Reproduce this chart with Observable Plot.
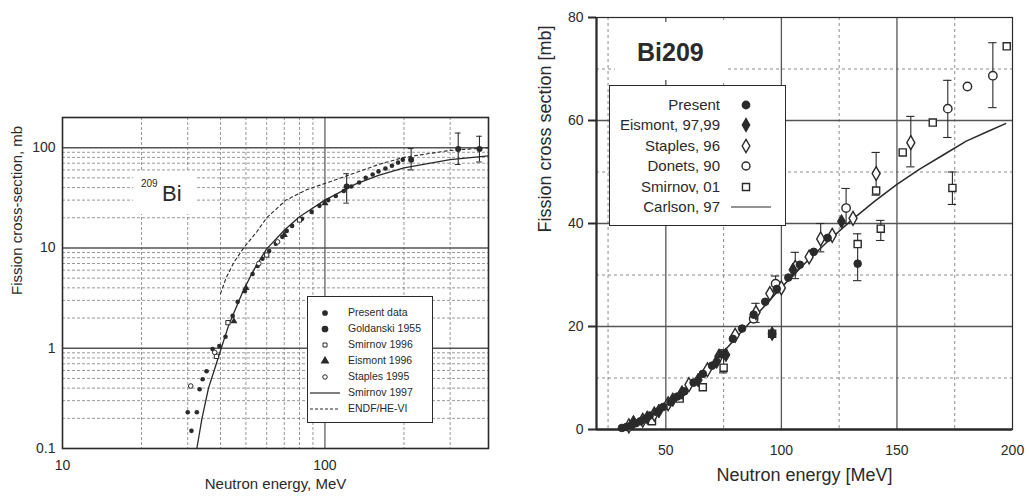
<!DOCTYPE html>
<html><head><meta charset="utf-8">
<script src="https://cdn.jsdelivr.net/npm/d3@7"></script>
<script src="https://cdn.jsdelivr.net/npm/@observablehq/plot@0.6"></script>
<style>
body{margin:0;background:#fff;font-family:"Liberation Sans",Arial,sans-serif;color:#2a2a2a;}
#wrap{position:relative;width:1029px;height:499px;overflow:hidden;background:#fff;}
#wrap svg.plot{position:absolute;top:0;}
.box{position:absolute;background:#fff;box-sizing:border-box;}
.row{position:absolute;white-space:nowrap;line-height:1;}
</style></head><body><div id="wrap"></div>
<script>
// ---------- LEFT PANEL DATA (log-log) ----------
const lXTicks = [10, 100];
const lYTicks = [0.1, 1, 10, 100];
const lMinorX = [20, 30, 40, 50, 60, 70, 80, 90, 200, 300];
const lMajorX = [100];
const lMinorY = [0.2, 0.3, 0.4, 0.5, 0.6, 0.7, 0.8, 0.9, 2, 3, 4, 5, 6, 7, 8, 9, 20, 30, 40, 50, 60, 70, 80, 90, 200];
const lMajorY = [1, 10, 100];
const lSmirnov97 = [[32.5,0.1],[34,0.2],[36,0.4],[38,0.62],[40,0.95],[43,1.7],[48.5,3.6],[52,5.2],[55,6.8],[60,9.8],[70,15],[80,20.5],[100,30],[130,43],[160,53],[200,63],[300,76],[420,83]];
const lEndf = [[40,3.5],[42,5],[45,7.2],[49,10],[55,14.5],[60,20],[71,30],[85,38],[100,44],[130,56],[160,68],[200,80],[300,94],[420,100]];
const lPresent = [[30,0.23],[31,0.15],[32.5,0.23],[33.3,0.39],[34.2,0.49],[35.4,0.59],[37.3,0.98],[39.6,1.05],[41.8,1.3],[44.5,2.1],[46.5,2.9],[49.5,3.7],[53,5.5],[55.4,6.6],[57.8,7.8],[61.3,9.3],[65,11],[68.8,12.9],[71.5,14.8],[75,16.6],[81.8,19.5],[89,22.9],[95.3,26.3],[103,30],[110,33],[118,37],[126,41],[135,45],[143,50],[152,54],[160,58],[170,62],[180,66],[190,71],[198,76]];
const lGoldanski = [[121,41],[213,76],[322,97],[388,97]];
const lGoldanskiErr = [[121,28,55],[213,60,98],[322,68,140],[388,72,130]];
const lSmirnov96 = [[38.6,0.83],[42.7,1.8],[60,8.5],[80,19]];
const lEismont96 = [[45,1.86],[50,4],[70,13.5],[100,28]];
const lStaples95 = [[30.8,0.42],[38,0.91],[56,7],[66,11.5]];
const lLegend = ["Present data","Goldanski 1955","Smirnov 1996","Eismont 1996","Staples 1995","Smirnov 1997","ENDF/HE-VI"];

// ---------- RIGHT PANEL DATA (linear) ----------
const rXTicks = [50, 100, 150, 200];
const rYTicks = [0, 20, 40, 60, 80];
const rMinorX = [25, 75, 125, 175];
const rMajorX = [50, 100, 150];
const rMinorY = [10, 30, 50, 70];
const rMajorY = [20, 40, 60];
const rCarlson = [[30,0.1],[33,0.4],[36,0.8],[40,1.5],[45,2.7],[50,4.2],[55,6],[60,8],[65,10.2],[70,12.6],[75,15.1],[80,17.6],[85,20.1],[90,22.6],[95,25.1],[100,27.6],[110,32.2],[120,36.5],[130,40.5],[140,44.2],[150,47.6],[160,50.6],[170,53.3],[180,56],[190,58],[197,59.4]];
const rPresent = [[31,0.3],[33,0.5],[35,0.8],[37,1.2],[39,1.6],[41,2.1],[43,2.7],[46,3.4],[49,4.4],[52,5.3],[55,6.4],[58,7.4],[62,9.1],[66,10.8],[70,12.4],[74,14.6],[79,17.6],[83,19.6],[88,22.3],[93,24.8],[98,27.3],[103,29.5],[108,32],[114,34.5],[120,37.2],[133,32.2]];
const rEismont = [[36,1.4],[42,2.3],[47,3.6],[53,5.8],[57,7.2],[64,9.6],[72,13.2],[76,14.5],[96,18.6],[105,31],[126,40.4]];
const rStaples = [[34,0.7],[40,1.8],[45,3.0],[51,5.0],[60,8.7],[68,11.6],[73,14.2],[80,18.3],[89,22.7],[95,26.4],[100,27.5],[106,31.5],[112,33.5],[117,37],[122,37.7],[131,41],[141,49.7],[156,55.7]];
const rDonets = [[88,21.5],[97.5,28.3],[128,43],[172,62.3],[180.5,66.6],[191.5,68.7]];
const rSmirnov = [[44,1.6],[56,6.0],[66,8.2],[75,12],[96,18.6],[133,36],[141,46.4],[143,39],[152.5,53.8],[165.5,59.6],[174,46.9],[197.5,74.4]];
const rErr = [[133,28.9,38],[143,36.7,40.6],[174,43.7,50],[141,45.5,53.8],[156,51,60.8],[128,40,46.8],[172,56.7,67.8],[191.5,62.5,75.1],[106,29.3,34.4],[117,34.5,40],[89,20.8,24.5],[97.5,26.5,29.8],[75,11,15.5]];
const rLegend = ["Present","Eismont, 97,99","Staples, 96","Donets, 90","Smirnov, 01","Carlson, 97"];

// ---------- helpers ----------
const ink = "#2a2a2a";
const P = a => a.map(([x,y]) => ({x,y}));
const E = a => a.map(([x,lo,hi]) => ({x,lo,hi}));
const font = "Liberation Sans, Arial, sans-serif";
const wrap = document.getElementById("wrap");

// ---------- LEFT PLOT ----------
const dash = {stroke:"#8c8c8c", strokeWidth:0.9, strokeDasharray:"3,2"};
const left = Plot.plot({
  width: 500, height: 499,
  marginLeft: 62, marginRight: 12, marginTop: 117, marginBottom: 51,
  style: {fontFamily: font, fontSize: "14px", color: ink, background: "transparent"},
  x: {type: "log", domain: [10, 420]},
  y: {type: "log", domain: [0.1, 200]},
  marks: [
    Plot.ruleX(lMinorX, dash),
    Plot.ruleY(lMinorY, dash),
    Plot.ruleX(lMajorX, {stroke:"#555", strokeWidth:1.2}),
    Plot.ruleY(lMajorY, {stroke:"#555", strokeWidth:1.6}),
    Plot.frame({stroke: ink, strokeWidth: 1.6}),
    Plot.axisY(lYTicks, {tickSize: 0, tickPadding: 7, tickFormat: d => String(d), label: null, fontSize: 14}),
    Plot.axisX(lXTicks, {tickSize: 0, tickPadding: 12, tickFormat: d => String(d), label: null, fontSize: 14}),
    Plot.line(P(lEndf), {x:"x", y:"y", stroke: ink, strokeWidth: 1.1, strokeDasharray: "3,3"}),
    Plot.line(P(lSmirnov97), {x:"x", y:"y", stroke: ink, strokeWidth: 1.3}),
    Plot.ruleX(E(lGoldanskiErr), {x:"x", y1:"lo", y2:"hi", stroke: ink, strokeWidth: 1.1}),
    Plot.ruleY(E(lGoldanskiErr), {x1: d => d.x*0.975, x2: d => d.x*1.025, y:"lo", stroke: ink}),
    Plot.ruleY(E(lGoldanskiErr), {x1: d => d.x*0.975, x2: d => d.x*1.025, y:"hi", stroke: ink}),
    Plot.dot(P(lPresent), {x:"x", y:"y", r: 2.3, fill: ink, stroke: "none"}),
    Plot.dot(P(lGoldanski), {x:"x", y:"y", r: 3, fill: ink, stroke: "none"}),
    Plot.dot(P(lSmirnov96), {x:"x", y:"y", r: 2.4, symbol: "square", fill: "white", stroke: ink, strokeWidth: 1}),
    Plot.dot(P(lEismont96), {x:"x", y:"y", r: 2.6, symbol: "triangle", fill: ink, stroke: "none"}),
    Plot.dot(P(lStaples95), {x:"x", y:"y", r: 2.3, fill: "white", stroke: ink, strokeWidth: 1}),
    Plot.text(["Fission cross-section, mb"], {text: d => d, frameAnchor: "left", dx: -45, dy: 12, rotate: -90, fontSize: 15, fill: ink}),
    Plot.text(["Neutron energy, MeV"], {text: d => d, frameAnchor: "bottom", dy: 40, fontSize: 15, fill: ink})
  ]
});
left.classList.add("plot");
left.style.left = "0px";
wrap.appendChild(left);

// ---------- RIGHT PLOT ----------
const dashR = {stroke:"#8c8c8c", strokeWidth:1, strokeDasharray:"3,3"};
const right = Plot.plot({
  width: 499, height: 499,
  marginLeft: 66, marginRight: 17, marginTop: 17, marginBottom: 70,
  style: {fontFamily: font, fontSize: "14px", color: ink, background: "transparent"},
  x: {domain: [20, 200]},
  y: {domain: [0, 80]},
  marks: [
    Plot.ruleX(rMinorX, dashR),
    Plot.ruleY(rMinorY, dashR),
    Plot.ruleX(rMajorX, {stroke:"#555", strokeWidth:1.3}),
    Plot.ruleY(rMajorY, {stroke:"#555", strokeWidth:1.6}),
    Plot.frame({stroke: ink, strokeWidth: 1.2}),
    Plot.ruleX([20], {stroke: ink, strokeWidth: 2.2}),
    Plot.ruleY([0], {stroke: ink, strokeWidth: 2.6}),
    Plot.axisY(rYTicks, {tickSize: 8, tickPadding: 5, label: null, fontSize: 14, strokeWidth: 2}),
    Plot.axisX(rXTicks, {tickSize: 0, tickPadding: 16, label: null, fontSize: 14}),
    Plot.line(P(rCarlson), {x:"x", y:"y", stroke: ink, strokeWidth: 1.5}),
    Plot.ruleX(E(rErr), {x:"x", y1:"lo", y2:"hi", stroke: ink, strokeWidth: 1.1}),
    Plot.ruleY(E(rErr), {x1: d => d.x-1.8, x2: d => d.x+1.8, y:"lo", stroke: ink, strokeWidth: 1.1}),
    Plot.ruleY(E(rErr), {x1: d => d.x-1.8, x2: d => d.x+1.8, y:"hi", stroke: ink, strokeWidth: 1.1}),
    Plot.dot(P(rSmirnov), {x:"x", y:"y", r: 4, symbol: "square", fill: "white", stroke: ink, strokeWidth: 1.4}),
    Plot.dot(P(rDonets), {x:"x", y:"y", r: 4.2, fill: "white", stroke: ink, strokeWidth: 1.4}),
    Plot.dot(P(rStaples), {x:"x", y:"y", r: 4.2, symbol: "diamond", fill: "white", stroke: ink, strokeWidth: 1.4}),
    Plot.dot(P(rEismont), {x:"x", y:"y", r: 4.2, symbol: "diamond", fill: ink, stroke: ink, strokeWidth: 1}),
    Plot.dot(P(rPresent), {x:"x", y:"y", r: 3.8, fill: ink, stroke: ink, strokeWidth: 1}),
    Plot.text(["Fission cross section [mb]"], {text: d => d, frameAnchor: "left", dx: -51, dy: 9, rotate: -90, fontSize: 18, fill: ink}),
    Plot.text(["Neutron energy [MeV]"], {text: d => d, frameAnchor: "bottom", dy: 51, fontSize: 18, fill: ink})
  ]
});
right.classList.add("plot");
right.style.left = "530px";
wrap.appendChild(right);

// ---------- overlays: labels and legends ----------
function box(l, t, w, h, border) {
  const b = document.createElement("div");
  b.className = "box";
  Object.assign(b.style, {left: l+"px", top: t+"px", width: w+"px", height: h+"px", border: border ? "1.6px solid "+ink : "none"});
  wrap.appendChild(b);
  return b;
}
function glyph(parent, cx, cy, kind, size) {
  const s = d3.select(parent).append("svg").attr("width", 44).attr("height", 16)
    .style("position","absolute").style("left", (cx-22)+"px").style("top", (cy-8)+"px").style("overflow","visible");
  if (kind.line) {
    s.append("line").attr("x1", 22-kind.len/2).attr("x2", 22+kind.len/2).attr("y1", 8).attr("y2", 8)
      .attr("stroke", ink).attr("stroke-width", 1.2).attr("stroke-dasharray", kind.dash || null);
  } else {
    s.append("path").attr("transform", "translate(22,8)")
      .attr("d", d3.symbol(kind.type, size)())
      .attr("fill", kind.fill ? ink : "white").attr("stroke", ink).attr("stroke-width", kind.sw || 1.2);
  }
}

// left "209Bi"
const lb = box(133, 172, 62, 42, false);
lb.innerHTML = '<span style="position:absolute;left:8px;top:6px;font-size:10px;">209</span><span style="position:absolute;left:29px;top:9px;font-size:22px;">Bi</span>';

// left legend
const lg = box(307, 296, 126, 127, true);
const lKinds = [
  {type: d3.symbolCircle, fill: true}, {type: d3.symbolCircle, fill: true}, {type: d3.symbolSquare, fill: false, sw: 1},
  {type: d3.symbolTriangle, fill: true}, {type: d3.symbolCircle, fill: false, sw: 1},
  {line: true, len: 30}, {line: true, len: 30, dash: "3,2"}
];
const lSizes = [16, 24, 16, 20, 16, 0, 0];
lLegend.forEach((name, i) => {
  const cy = 16 + i*16;
  glyph(lg, 17, cy, lKinds[i], lSizes[i]);
  const r = document.createElement("div");
  r.className = "row";
  Object.assign(r.style, {left: "40px", top: (cy-6)+"px", fontSize: "10.5px"});
  r.textContent = name;
  lg.appendChild(r);
});

// right "Bi209"
const rb = box(615, 22, 110, 58, false);
rb.innerHTML = '<span style="position:absolute;left:22px;top:16px;font-size:25px;font-weight:bold;">Bi209</span>';

// right legend
const rg = box(609, 85, 177, 141, true);
const rKinds = [
  {type: d3.symbolCircle, fill: true}, {type: d3.symbolDiamond, fill: true}, {type: d3.symbolDiamond, fill: false, sw: 1.4},
  {type: d3.symbolCircle, fill: false, sw: 1.4}, {type: d3.symbolSquare, fill: false, sw: 1.4}, {line: true, len: 40}
];
const rSizes = [45, 50, 50, 50, 50, 0];
rLegend.forEach((name, i) => {
  const cy = 19 + i*20.4;
  glyph(rg, i === 5 ? 141 : 136, cy, rKinds[i], rSizes[i]);
  const r = document.createElement("div");
  r.className = "row";
  Object.assign(r.style, {right: (177-112)+"px", top: (cy-8)+"px", fontSize: "15px", textAlign: "right"});
  r.textContent = name;
  rg.appendChild(r);
});
</script>
</body></html>
